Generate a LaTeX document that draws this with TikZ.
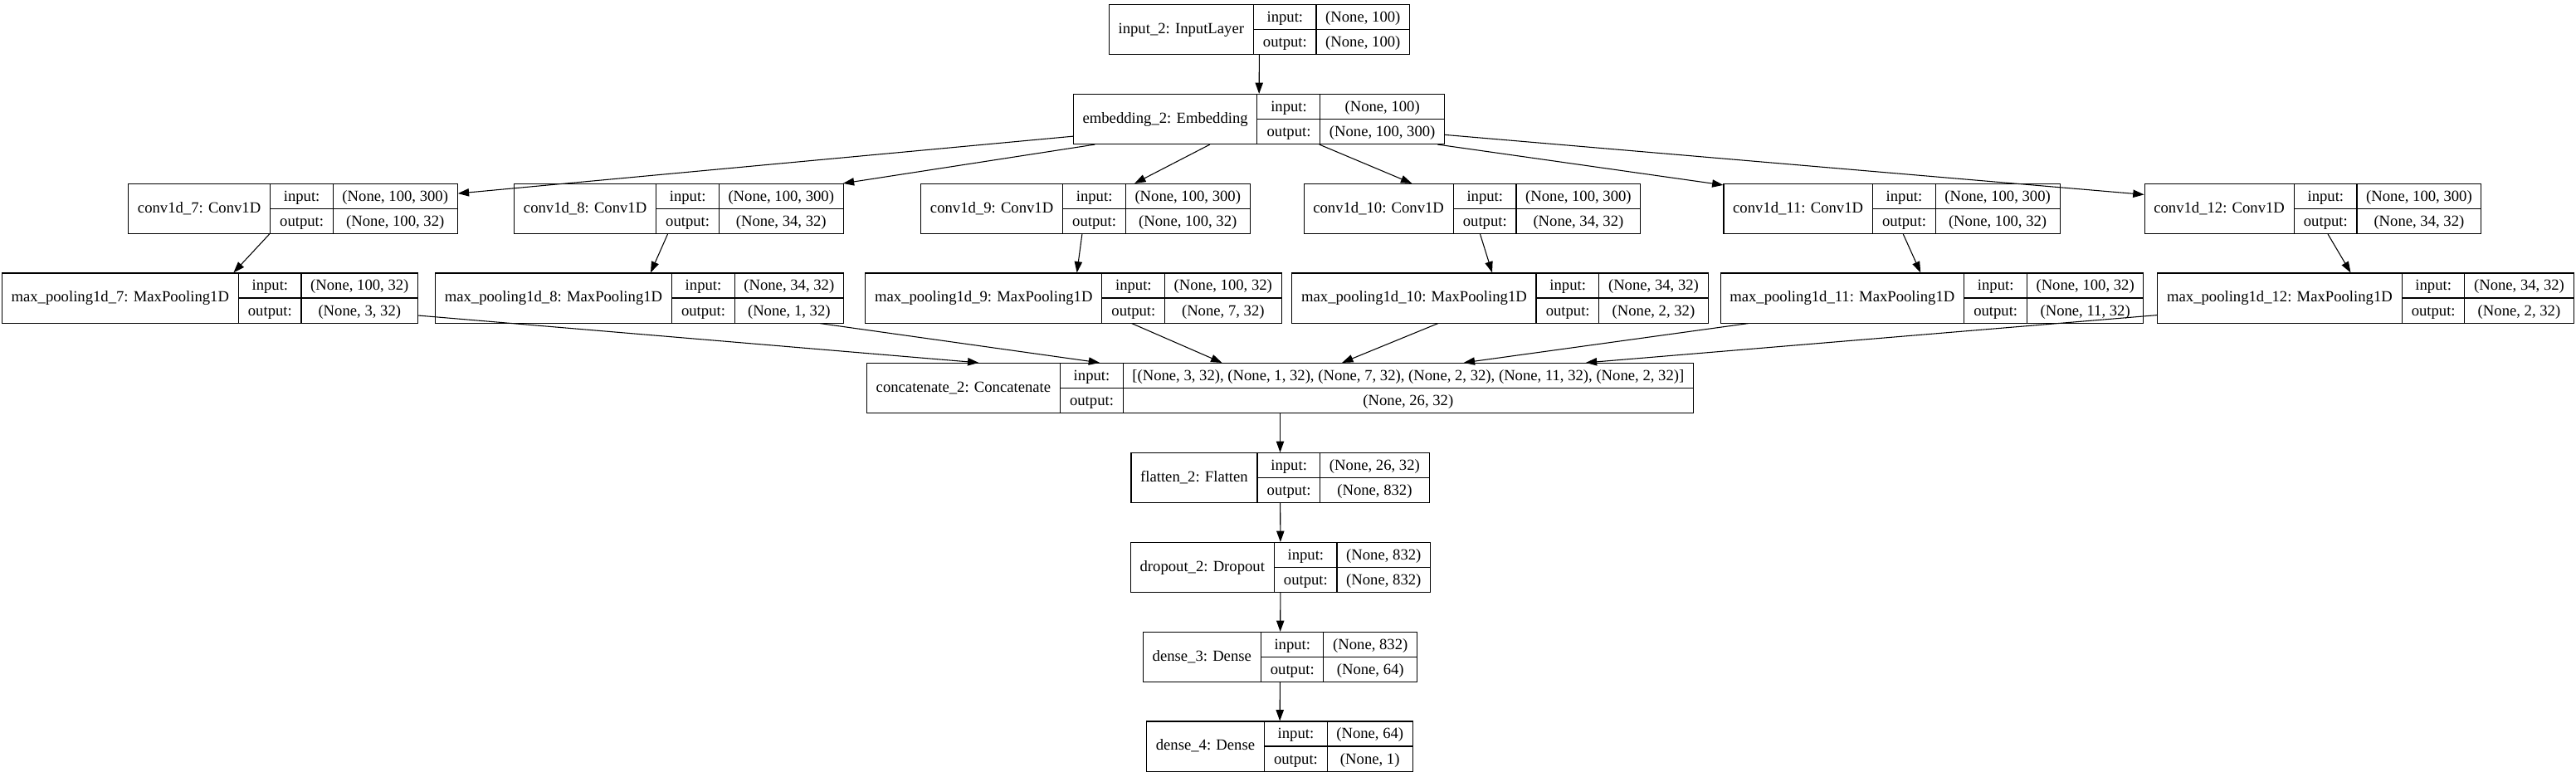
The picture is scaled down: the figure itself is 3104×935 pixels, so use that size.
\documentclass[tikz,border=0pt]{standalone}
\usepackage{fontspec}
\setmainfont{Liberation Serif}
\usepackage{tikz}
\usetikzlibrary{arrows.meta}
\setlength{\tabcolsep}{8.4pt}
\setlength{\arrayrulewidth}{0.8pt}
\newcommand{\kerasbox}[3]{%
  \begin{tabular}{c|@{}c@{}}
  #1 & \begin{tabular}{c|c}
       input: & #2\\ \hline
       output: & #3
       \end{tabular}
  \end{tabular}}

\begin{document}
\begin{tikzpicture}[x=0.75pt,y=-0.75pt,>={Triangle[length=10pt,width=7pt]},
  every node/.style={draw,line width=0.8pt,inner sep=0pt,font=\fontsize{14}{22.125}\selectfont}]
\useasboundingbox (0,0) rectangle (3104,935);
\node (inp) at (1517.5,35.5) {\kerasbox{input\_2: InputLayer}{(None, 100)}{(None, 100)}};
\node (emb) at (1517,143.5) {\kerasbox{embedding\_2: Embedding}{(None, 100)}{(None, 100, 300)}};
\node (c7) at (353,251.5) {\kerasbox{conv1d\_7: Conv1D}{(None, 100, 300)}{(None, 100, 32)}};
\node (c8) at (818,251.5) {\kerasbox{conv1d\_8: Conv1D}{(None, 100, 300)}{(None, 34, 32)}};
\node (c9) at (1308,251.5) {\kerasbox{conv1d\_9: Conv1D}{(None, 100, 300)}{(None, 100, 32)}};
\node (c10) at (1774,251.5) {\kerasbox{conv1d\_10: Conv1D}{(None, 100, 300)}{(None, 34, 32)}};
\node (c11) at (2279.5,251.5) {\kerasbox{conv1d\_11: Conv1D}{(None, 100, 300)}{(None, 100, 32)}};
\node (c12) at (2787,251.5) {\kerasbox{conv1d\_12: Conv1D}{(None, 100, 300)}{(None, 34, 32)}};
\node (p7) at (253,359) {\kerasbox{max\_pooling1d\_7: MaxPooling1D}{(None, 100, 32)}{(None, 3, 32)}};
\node (p8) at (770.5,359) {\kerasbox{max\_pooling1d\_8: MaxPooling1D}{(None, 34, 32)}{(None, 1, 32)}};
\node (p9) at (1293.5,359) {\kerasbox{max\_pooling1d\_9: MaxPooling1D}{(None, 100, 32)}{(None, 7, 32)}};
\node (p10) at (1807.5,359) {\kerasbox{max\_pooling1d\_10: MaxPooling1D}{(None, 34, 32)}{(None, 2, 32)}};
\node (p11) at (2328,359) {\kerasbox{max\_pooling1d\_11: MaxPooling1D}{(None, 100, 32)}{(None, 11, 32)}};
\node (p12) at (2850.5,359) {\kerasbox{max\_pooling1d\_12: MaxPooling1D}{(None, 34, 32)}{(None, 2, 32)}};
\node (cat) at (1542.5,467.5) {\kerasbox{concatenate\_2: Concatenate}{[(None, 3, 32), (None, 1, 32), (None, 7, 32), (None, 2, 32), (None, 11, 32), (None, 2, 32)]}{(None, 26, 32)}};
\node (flat) at (1542.5,575.5) {\kerasbox{flatten\_2: Flatten}{(None, 26, 32)}{(None, 832)}};
\node (drop) at (1543,683.5) {\kerasbox{dropout\_2: Dropout}{(None, 832)}{(None, 832)}};
\node (d3) at (1542.5,791.5) {\kerasbox{dense\_3: Dense}{(None, 832)}{(None, 64)}};
\node (d4) at (1542,899) {\kerasbox{dense\_4: Dense}{(None, 64)}{(None, 1)}};
\draw[->,line width=0.8pt] (inp) -- (emb);
\draw[->,line width=0.8pt] (emb) -- (c7);
\draw[->,line width=0.8pt] (emb) -- (c8);
\draw[->,line width=0.8pt] (emb) -- (c9);
\draw[->,line width=0.8pt] (emb) -- (c10);
\draw[->,line width=0.8pt] (emb) -- (c11);
\draw[->,line width=0.8pt] (emb) -- (c12);
\draw[->,line width=0.8pt] (c7) -- (p7);
\draw[->,line width=0.8pt] (c8) -- (p8);
\draw[->,line width=0.8pt] (c9) -- (p9);
\draw[->,line width=0.8pt] (c10) -- (p10);
\draw[->,line width=0.8pt] (c11) -- (p11);
\draw[->,line width=0.8pt] (c12) -- (p12);
\draw[->,line width=0.8pt] (p7) -- (cat);
\draw[->,line width=0.8pt] (p8) -- (cat);
\draw[->,line width=0.8pt] (p9) -- (cat);
\draw[->,line width=0.8pt] (p10) -- (cat);
\draw[->,line width=0.8pt] (p11) -- (cat);
\draw[->,line width=0.8pt] (p12) -- (cat);
\draw[->,line width=0.8pt] (cat) -- (flat);
\draw[->,line width=0.8pt] (flat) -- (drop);
\draw[->,line width=0.8pt] (drop) -- (d3);
\draw[->,line width=0.8pt] (d3) -- (d4);
\end{tikzpicture}
\end{document}
